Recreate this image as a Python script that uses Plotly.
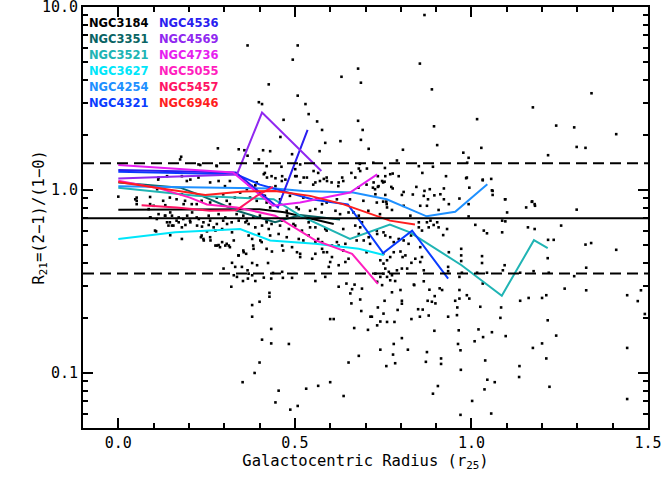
import plotly.graph_objects as go

# ---------------- data ----------------
galaxy_names = ["NGC3184", "NGC3351", "NGC3521", "NGC3627", "NGC4254", "NGC4321",
                "NGC4536", "NGC4569", "NGC4736", "NGC5055", "NGC5457", "NGC6946"]
galaxy_colors = ["#000000", "#0a6464", "#20b4b4", "#00e6fa", "#1e90ff", "#0a3cff",
                 "#2a1ef0", "#9028f0", "#e61ef0", "#ff1ebe", "#ff1464", "#ff1e1e"]

r_3184 = [0.0, 0.2, 0.4, 0.47, 0.61]
q_3184 = [0.78, 0.78, 0.785, 0.755, 0.652]
r_3351 = [0.0, 0.175, 0.23, 0.336, 0.444, 0.515, 0.628]
q_3351 = [1.10, 1.03, 0.94, 0.77, 0.666, 0.73, 0.69]
r_3521 = [0.0, 0.22, 0.44, 0.515, 0.656, 0.769, 0.826, 0.972, 1.086, 1.177, 1.216]
q_3521 = [1.03, 0.93, 0.89, 0.724, 0.541, 0.647, 0.587, 0.388, 0.264, 0.532, 0.481]
r_3627 = [0.0, 0.161, 0.345, 0.43, 0.558, 0.681, 0.752]
q_3627 = [0.54, 0.587, 0.612, 0.53, 0.508, 0.477, 0.441]
r_4254 = [0.0, 0.444, 0.524, 0.665, 0.76, 0.873, 0.954, 1.045]
q_4254 = [1.047, 1.02, 0.989, 0.968, 0.89, 0.718, 0.76, 1.075]
r_4321 = [0.0, 0.333, 0.401, 0.551, 0.65, 0.75, 0.832, 0.934]
q_4321 = [1.26, 1.22, 1.07, 0.887, 0.833, 0.452, 0.60, 0.328]
r_4536 = [0.0, 0.333, 0.452, 0.536]
q_4536 = [1.286, 1.245, 0.803, 2.13]
r_4569 = [0.0, 0.336, 0.407, 0.575]
q_4569 = [1.157, 1.217, 2.65, 1.27]
r_4736 = [0.0, 0.325, 0.438, 0.515, 0.656, 0.733]
q_4736 = [1.37, 1.245, 0.82, 0.855, 0.968, 1.217]
r_5055 = [0.0, 0.118, 0.203, 0.251, 0.336, 0.444, 0.557, 0.662, 0.735]
q_5055 = [1.125, 1.018, 0.909, 0.833, 0.803, 0.724, 0.532, 0.448, 0.307]
r_5457 = [0.066, 0.165, 0.26, 0.335, 0.392, 0.438]
q_5457 = [0.826, 0.803, 0.77, 0.776, 0.929, 1.04]
r_6946 = [0.0, 0.109, 0.246, 0.354, 0.444, 0.543, 0.636, 0.769, 0.84]
q_6946 = [1.107, 1.03, 0.94, 0.98, 0.989, 0.929, 0.837, 0.68, 0.647]

profiles_r = [r_3184, r_3351, r_3521, r_3627, r_4254, r_4321,
              r_4536, r_4569, r_4736, r_5055, r_5457, r_6946]
profiles_q = [q_3184, q_3351, q_3521, q_3627, q_4254, q_4321,
              q_4536, q_4569, q_4736, q_5055, q_5457, q_6946]

ref_median = 0.7
ref_bounds = [0.35, 1.4]

pts_high = [
    (0.366, 6.17), (0.508, 6.17), (0.494, 5.16), (0.679, 4.61), (0.632, 4.16), (0.687, 3.86),
    (0.426, 3.78), (0.508, 3.28), (0.398, 3.02), (0.407, 2.95), (0.530, 2.95), (0.539, 2.60),
    (0.468, 2.42), (0.679, 2.39), (0.563, 2.37), (0.577, 2.13), (0.692, 2.13), (0.459, 1.95),
    (0.629, 1.85), (0.586, 1.81), (0.282, 1.69), (0.341, 1.67), (0.709, 1.68), (0.410, 1.65),
    (0.430, 1.63), (0.357, 1.65), (0.570, 1.63), (0.178, 1.52), (0.366, 1.54), (0.492, 1.57),
    (0.462, 1.34), (0.398, 1.47), (0.278, 1.36), (0.501, 1.30), (0.553, 1.27), (0.684, 1.39),
    (0.660, 1.24), (0.704, 1.31), (0.681, 1.31), (0.232, 1.37), (0.582, 1.15), (0.591, 1.12),
    (0.412, 1.22), (0.421, 1.17), (0.445, 1.16), (0.464, 1.19), (0.473, 1.14), (0.501, 1.19),
    (0.525, 1.17), (0.515, 1.10), (0.558, 1.10), (0.624, 1.10), (0.634, 1.17), (0.671, 1.17),
    (0.114, 1.17), (0.138, 1.19), (0.180, 1.19), (0.204, 1.14), (0.284, 1.12), (0.369, 1.07),
    (0.388, 1.06), (0.445, 1.05), (0.048, 0.89), (0.110, 1.01), (0.0, 0.92), (0.687, 1.88),
    (0.867, 9.05), (0.854, 4.91), (0.888, 3.55), (1.340, 3.38), (1.174, 2.83), (1.016, 2.44),
    (1.240, 2.25), (1.291, 2.20), (0.894, 2.23), (1.410, 2.02), (0.903, 1.76), (1.298, 1.72),
    (1.323, 1.70), (1.028, 1.70), (0.806, 1.66), (1.217, 1.55), (0.977, 1.60), (0.992, 1.50),
    (0.988, 1.41), (0.851, 1.35), (0.891, 1.34), (0.861, 1.24), (0.928, 1.19), (0.985, 1.16),
    (1.032, 1.14), (1.056, 1.15), (0.994, 1.03), (1.058, 0.996), (1.060, 0.94), (0.844, 1.04),
    (0.922, 1.02), (0.867, 0.989), (0.882, 1.01), (0.808, 0.976), (0.803, 0.94), (0.834, 0.945),
    (0.865, 0.929), (0.895, 0.935), (0.912, 0.948), (0.922, 0.89), (0.877, 0.89), (0.966, 0.898),
    (1.096, 0.89), (1.172, 0.866), (0.735, 1.19), (0.723, 1.10), (0.737, 1.05), (0.756, 1.19),
    (0.770, 1.22), (0.777, 1.23), (0.794, 1.19), (0.747, 1.12), (0.754, 1.11), (0.773, 1.04),
    (0.777, 1.02), (0.735, 1.04), (0.721, 1.03), (0.756, 0.94), (0.728, 0.948), (0.750, 0.864),
    (0.759, 0.864), (0.789, 1.45), (1.171, 0.862), (1.180, 0.82), (1.095, 0.89), (1.060, 0.989),
    (1.032, 1.13), (0.987, 1.17),
]
pts_core = [
    (0.175, 1.47), (0.227, 1.38), (0.279, 1.35), (0.415, 1.24), (0.113, 1.14), (0.227, 1.17),
    (0.194, 1.12), (0.260, 1.10), (0.302, 1.05), (0.316, 1.12), (0.052, 0.909), (0.052, 0.873),
    (0.052, 0.837), (0.090, 0.837), (0.127, 0.873), (0.146, 0.909), (0.165, 0.89), (0.180, 0.948),
    (0.189, 0.873), (0.208, 0.837), (0.222, 0.837), (0.236, 0.873), (0.260, 0.854), (0.279, 0.909),
    (0.297, 0.948), (0.307, 0.873), (0.316, 0.837), (0.330, 0.909), (0.345, 0.968), (0.364, 1.01),
    (0.378, 1.05), (0.392, 1.10), (0.373, 0.909), (0.392, 0.873), (0.411, 0.929), (0.420, 0.854),
    (0.430, 1.03), (0.090, 0.708), (0.109, 0.694), (0.132, 0.724), (0.146, 0.666), (0.165, 0.68),
    (0.184, 0.694), (0.203, 0.68), (0.222, 0.708), (0.241, 0.666), (0.260, 0.68), (0.279, 0.652),
    (0.297, 0.68), (0.321, 0.666), (0.335, 0.738), (0.354, 0.724), (0.364, 0.68), (0.382, 0.708),
    (0.401, 0.724), (0.420, 0.68), (0.434, 0.652), (0.142, 0.639), (0.156, 0.639), (0.104, 0.60),
    (0.236, 0.564), (0.260, 0.552), (0.279, 0.497), (0.288, 0.487), (0.307, 0.508), (0.316, 0.487),
    (0.340, 0.439), (0.354, 0.467), (0.382, 0.497), (0.406, 0.519), (0.241, 0.54), (0.090, 0.916),
    (0.420, 1.35), (0.434, 1.19), (0.463, 1.12), (0.505, 1.19), (0.534, 1.17), (0.552, 1.07),
    (0.571, 1.12), (0.590, 1.17), (0.604, 1.10), (0.623, 1.05), (0.637, 1.12), (0.680, 1.03),
    (0.703, 1.07), (0.727, 1.01), (0.750, 1.10), (0.685, 1.27), (0.722, 1.41), (0.755, 1.32),
    (0.515, 1.38), (0.566, 1.24), (0.415, 0.929), (0.458, 0.89), (0.486, 0.929), (0.524, 0.909),
    (0.562, 0.89), (0.590, 0.854), (0.619, 0.89), (0.656, 0.89), (0.694, 0.873), (0.732, 0.854),
    (0.760, 0.837), (0.430, 0.803), (0.477, 0.77), (0.505, 0.803), (0.543, 0.77), (0.576, 0.754),
    (0.628, 0.738), (0.666, 0.754), (0.708, 0.77), (0.741, 0.738), (0.420, 0.666), (0.458, 0.639),
    (0.496, 0.652), (0.543, 0.625), (0.590, 0.60), (0.637, 0.612), (0.685, 0.625), (0.732, 0.60),
    (0.430, 0.564), (0.477, 0.552), (0.524, 0.53), (0.566, 0.54), (0.619, 0.519), (0.675, 0.53),
    (0.713, 0.508), (0.420, 0.477), (0.467, 0.467), (0.515, 0.448), (0.581, 0.457), (0.637, 0.467),
    (0.703, 0.457), (0.750, 0.448),
    (0.086, 0.786), (0.091, 0.708), (0.114, 0.738), (0.133, 0.724), (0.152, 0.724), (0.171, 0.708),
    (0.195, 0.724), (0.147, 0.754), (0.100, 0.82), (0.133, 0.826), (0.185, 0.837), (0.209, 0.754),
    (0.256, 0.724), (0.284, 0.738), (0.303, 0.708), (0.251, 0.594), (0.275, 0.60), (0.294, 0.612),
    (0.322, 0.587), (0.308, 0.652), (0.369, 0.652), (0.388, 0.625), (0.407, 0.639), (0.426, 0.612),
    (0.369, 0.564), (0.379, 0.540), (0.398, 0.575), (0.483, 0.612), (0.501, 0.639), (0.520, 0.60),
    (0.539, 0.564), (0.511, 0.540), (0.558, 0.519), (0.577, 0.519), (0.605, 0.497), (0.624, 0.497),
    (0.643, 0.508), (0.681, 0.575), (0.695, 0.530), (0.709, 0.552), (0.671, 0.639), (0.690, 0.666),
    (0.539, 0.666), (0.558, 0.625), (0.586, 0.612), (0.464, 0.68), (0.478, 0.724), (0.511, 0.786),
    (0.558, 0.786), (0.577, 0.837), (0.615, 0.77), (0.652, 0.754), (0.681, 0.724), (0.454, 0.575),
    (0.341, 0.68), (0.360, 0.666),
    (0.107, 0.594), (0.147, 0.566), (0.180, 0.540), (0.138, 0.666), (0.152, 0.639), (0.171, 0.666),
    (0.190, 0.644), (0.180, 0.625), (0.204, 0.666), (0.223, 0.639), (0.228, 0.694), (0.237, 0.631),
    (0.256, 0.644), (0.270, 0.625), (0.234, 0.552), (0.242, 0.530), (0.261, 0.530), (0.275, 0.497),
    (0.284, 0.50), (0.294, 0.519), (0.303, 0.497), (0.313, 0.497), (0.327, 0.530), (0.341, 0.439),
    (0.355, 0.457), (0.362, 0.448), (0.383, 0.477), (0.402, 0.530), (0.435, 0.461), (0.464, 0.497),
    (0.492, 0.487), (0.506, 0.457), (0.515, 0.430), (0.591, 0.457), (0.549, 0.421), (0.558, 0.448),
    (0.577, 0.477), (0.605, 0.43), (0.652, 0.421),
]
pts_right_mid = [
    (1.155, 0.803), (1.179, 0.837), (1.101, 0.754), (1.298, 0.781), (0.992, 0.717), (0.992, 0.837),
    (1.011, 0.645), (1.035, 0.60), (1.044, 0.58), (1.087, 0.68), (1.096, 0.674), (1.087, 0.587),
    (1.160, 0.625), (1.179, 0.612), (1.254, 0.639), (1.323, 0.503), (1.339, 0.513), (1.410, 0.471),
    (1.217, 0.534), (1.233, 0.534), (1.216, 0.424), (1.094, 0.388), (1.089, 0.364), (1.030, 0.435),
    (1.030, 0.399), (0.971, 0.477), (0.971, 0.439), (0.971, 0.409), (0.973, 0.353), (0.966, 0.335),
    (0.934, 0.36), (1.016, 0.353), (1.044, 0.353), (1.032, 0.308), (1.138, 0.353), (1.176, 0.36),
    (1.219, 0.353), (1.291, 0.338), (1.325, 0.376), (1.264, 0.289), (1.325, 0.283), (1.480, 0.283),
    (1.441, 0.266), (1.471, 0.247), (1.491, 0.21),
    (0.733, 0.575), (0.751, 0.587), (0.756, 0.564), (0.770, 0.552), (0.780, 0.519), (0.794, 0.54),
    (0.808, 0.53), (0.822, 0.508), (0.829, 0.564), (0.851, 0.625), (0.860, 0.60), (0.874, 0.666),
    (0.879, 0.625), (0.903, 0.666), (0.907, 0.625), (0.920, 0.567), (0.931, 0.612), (0.855, 0.487),
    (0.860, 0.43), (0.855, 0.404), (0.841, 0.421), (0.830, 0.40), (0.813, 0.439), (0.799, 0.461),
    (0.805, 0.43), (0.780, 0.457), (0.770, 0.43), (0.761, 0.413), (0.751, 0.396), (0.742, 0.413),
    (0.756, 0.372), (0.766, 0.357), (0.775, 0.342), (0.784, 0.318), (0.770, 0.321), (0.761, 0.335),
    (0.751, 0.349), (0.742, 0.335), (0.728, 0.349), (0.733, 0.315), (0.747, 0.302), (0.789, 0.364),
    (0.803, 0.372), (0.837, 0.304), (0.818, 0.372), (0.865, 0.364), (0.934, 0.38), (0.936, 0.457),
    (0.855, 0.82), (0.874, 0.82), (0.907, 0.778), (0.936, 0.837), (0.808, 0.82), (0.775, 0.778),
    (0.761, 0.803), (0.827, 0.724), (0.884, 0.68), (0.893, 0.644), (0.851, 0.666),
]
pts_low = [
    (0.322, 0.40), (0.331, 0.38), (0.298, 0.372), (0.379, 0.399), (0.393, 0.388), (0.424, 0.399),
    (0.350, 0.38), (0.366, 0.364), (0.369, 0.349), (0.379, 0.342), (0.327, 0.342), (0.336, 0.335),
    (0.353, 0.318), (0.388, 0.318), (0.412, 0.332), (0.433, 0.328), (0.466, 0.331), (0.492, 0.331),
    (0.320, 0.296), (0.367, 0.328), (0.558, 0.318), (0.586, 0.335), (0.596, 0.38), (0.600, 0.404),
    (0.624, 0.388), (0.643, 0.404), (0.624, 0.296), (0.646, 0.308), (0.669, 0.304), (0.690, 0.289),
    (0.657, 0.272), (0.660, 0.24), (0.685, 0.252), (0.688, 0.218), (0.714, 0.203), (0.707, 0.172),
    (0.668, 0.176), (0.600, 0.197), (0.610, 0.197), (0.681, 0.124), (0.652, 0.114), (0.638, 0.0748),
    (0.600, 0.089), (0.566, 0.085), (0.532, 0.082), (0.483, 0.144), (0.508, 0.066), (0.487, 0.063),
    (0.445, 0.069), (0.454, 0.080), (0.352, 0.089), (0.386, 0.100), (0.400, 0.114), (0.433, 0.145),
    (0.407, 0.152), (0.433, 0.174), (0.379, 0.203), (0.379, 0.235), (0.400, 0.245), (0.428, 0.261),
    (0.428, 0.274), (0.662, 0.287), (0.464, 0.357), (0.438, 0.352),
    (1.441, 0.137), (1.441, 0.072), (1.216, 0.194), (1.240, 0.160), (1.200, 0.145), (1.174, 0.137),
    (1.212, 0.12), (1.221, 0.084), (1.136, 0.109), (1.135, 0.095), (1.162, 0.257), (1.138, 0.248),
    (1.200, 0.257), (1.212, 0.266), (1.097, 0.159), (1.084, 0.228), (1.082, 0.20), (1.058, 0.167),
    (1.033, 0.157), (1.020, 0.173), (1.025, 0.23), (1.009, 0.149), (1.039, 0.117), (1.045, 0.0918),
    (1.066, 0.089), (1.037, 0.0813), (1.002, 0.0703), (1.056, 0.060), (0.969, 0.059), (0.970, 0.104),
    (0.969, 0.133), (0.962, 0.144), (0.964, 0.171), (0.959, 0.207), (0.960, 0.228), (0.966, 0.255),
    (0.954, 0.248), (0.966, 0.284), (0.987, 0.266), (0.994, 0.255), (0.934, 0.203), (0.914, 0.12),
    (0.914, 0.112), (0.905, 0.0848), (0.891, 0.077), (0.874, 0.13), (0.871, 0.115), (0.820, 0.134),
    (0.803, 0.155), (0.780, 0.144), (0.778, 0.126), (0.784, 0.113), (0.759, 0.109), (0.742, 0.134),
    (0.895, 0.17), (0.879, 0.206), (0.854, 0.203), (0.862, 0.222), (0.849, 0.223), (0.830, 0.197),
    (0.876, 0.248), (0.888, 0.245), (0.898, 0.24), (0.896, 0.263), (0.881, 0.285), (0.910, 0.29),
    (0.917, 0.284), (0.865, 0.317), (0.838, 0.302), (0.799, 0.284), (0.803, 0.248), (0.803, 0.239),
    (0.775, 0.276), (0.754, 0.248), (0.791, 0.221), (0.751, 0.211), (0.735, 0.228), (0.718, 0.203),
    (0.733, 0.182), (0.742, 0.191), (0.761, 0.19), (0.782, 0.19),
]

x_ticks = [0.0, 0.5, 1.0, 1.5]
x_ticktext = ["0.0", "0.5", "1.0", "1.5"]
x_minor = [-0.1 + 0.1 * i for i in range(17)]
y_ticks = [0.1, 1.0, 10.0]
y_ticktext = ["0.1", "1.0", "10.0"]
y_minor = [0.05, 0.06, 0.07, 0.08, 0.09, 0.2, 0.3, 0.4, 0.5, 0.6, 0.7, 0.8, 0.9,
           2, 3, 4, 5, 6, 7, 8, 9]

# ---------------- figure ----------------
all_pts = pts_high + pts_core + pts_right_mid + pts_low
fig = go.Figure()
fig.add_trace(go.Scatter(
    x=[p[0] for p in all_pts], y=[p[1] for p in all_pts], mode="markers",
    marker=dict(symbol="square", size=2.6, color="black", line=dict(width=0)),
    showlegend=False, hoverinfo="skip"))

for name, col, rr, qq in zip(galaxy_names, galaxy_colors, profiles_r, profiles_q):
    fig.add_trace(go.Scatter(x=rr, y=qq, mode="lines", name=name,
                             line=dict(color=col, width=2), showlegend=False))

fig.add_hline(y=ref_median, line=dict(color="black", width=2))
for b in ref_bounds:
    fig.add_hline(y=b, line=dict(color="black", width=2, dash="11px,6px"))

font_leg = "DejaVu Sans"
font_axis = "DejaVu Sans Mono"
for i, (name, col) in enumerate(zip(galaxy_names, galaxy_colors)):
    col_i, row_i = divmod(i, 6)
    fig.add_annotation(
        x=0.007 + 0.124 * col_i, y=0.962 - 0.038 * row_i, xref="paper", yref="paper",
        text="<b>%s</b>" % name, showarrow=False, xanchor="left", yanchor="middle",
        font=dict(family=font_leg, size=11.5, color=col))

# y-axis title placed beside the axis
fig.add_annotation(
    x=0, y=0.5, xref="paper", yref="paper", xshift=-44, textangle=-90,
    text="R<sub>21</sub>=(2\u22121)/(1\u22120)", showarrow=False,
    xanchor="center", yanchor="middle",
    font=dict(family=font_axis, size=15.5, color="black"))

axis_common = dict(
    showline=True, linecolor="black", linewidth=2, mirror="allticks",
    ticks="inside", ticklen=10, tickwidth=1.5, tickcolor="black",
    showgrid=False, zeroline=False, ticklabeloverflow="allow", automargin=False,
    tickfont=dict(family=font_axis, size=15, color="black"),
)
fig.update_xaxes(
    range=[-0.1, 1.5], tickmode="array", tickvals=x_ticks, ticktext=x_ticktext,
    minor=dict(tickmode="array", tickvals=x_minor, ticks="inside", ticklen=5,
               tickwidth=1.5, tickcolor="black"),
    title=dict(text="Galactocentric Radius (r<sub>25</sub>)",
               font=dict(family=font_axis, size=15.5, color="black"), standoff=4),
    **axis_common)
fig.update_yaxes(
    type="log", range=[-1.30103, 1.0005], tickmode="array", tickvals=y_ticks, ticktext=y_ticktext,
    minor=dict(tickmode="array", tickvals=y_minor, ticks="inside", ticklen=5,
               tickwidth=1.5, tickcolor="black"),
    **axis_common)

fig.update_layout(
    width=664, height=484, margin=dict(l=83, r=16, t=7, b=56),
    paper_bgcolor="white", plot_bgcolor="white", showlegend=False,
)

fig.write_html("out.html")
